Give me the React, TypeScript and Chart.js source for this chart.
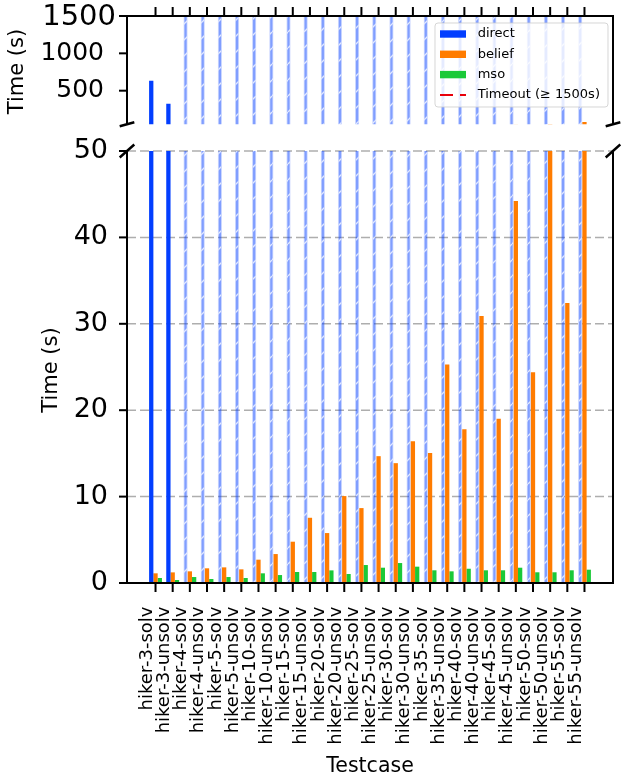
import React, { useEffect, useRef } from 'react';
import { Chart, registerables } from 'chart.js';

Chart.register(...registerables);

// ---------------- data ----------------
const CATEGORIES = [
  'hiker-3-solv', 'hiker-3-unsolv', 'hiker-4-solv', 'hiker-4-unsolv',
  'hiker-5-solv', 'hiker-5-unsolv', 'hiker-10-solv', 'hiker-10-unsolv',
  'hiker-15-solv', 'hiker-15-unsolv', 'hiker-20-solv', 'hiker-20-unsolv',
  'hiker-25-solv', 'hiker-25-unsolv', 'hiker-30-solv', 'hiker-30-unsolv',
  'hiker-35-solv', 'hiker-35-unsolv', 'hiker-40-solv', 'hiker-40-unsolv',
  'hiker-45-solv', 'hiker-45-unsolv', 'hiker-50-solv', 'hiker-50-unsolv',
  'hiker-55-solv', 'hiker-55-unsolv',
];
const DIRECT = [
  634, 326, 1500, 1500, 1500, 1500, 1500, 1500, 1500, 1500, 1500, 1500, 1500,
  1500, 1500, 1500, 1500, 1500, 1500, 1500, 1500, 1500, 1500, 1500, 1500, 1500,
];
const BELIEF = [
  1.12, 1.23, 1.35, 1.7, 1.81, 1.58, 2.7, 3.35, 4.78, 7.55, 5.78, 10.06, 8.67,
  14.68, 13.87, 16.4, 15.06, 25.3, 17.8, 30.9, 19.0, 44.2, 24.4, 52, 32.4, 80,
];
const MSO = [
  0.58, 0.35, 0.69, 0.46, 0.69, 0.58, 1.12, 0.92, 1.27, 1.27, 1.46, 1.04, 2.08,
  1.77, 2.31, 1.89, 1.47, 1.35, 1.65, 1.47, 1.47, 1.77, 1.24, 1.24, 1.47, 1.54,
];
const TIMEOUT = 1500;
const TOP_Y_TICKS = [500, 1000, 1500];
const BOTTOM_Y_TICKS = [0, 10, 20, 30, 40, 50];
const TOP_RANGE = [50, 1500];
const BOTTOM_RANGE = [0, 50];
const SERIES_LABELS = ['direct', 'belief', 'mso'];
const TIMEOUT_LABEL = 'Timeout (\u2265 1500s)';
const Y_TITLE = 'Time (s)';
const X_TITLE = 'Testcase';

// ---------------- styles / geometry ----------------
const BLUE = '#023eff';
const ORANGE = '#ff7c00';
const GREEN = '#1ac938';
const RED = '#e8000b';
const FONT = '"DejaVu Sans", sans-serif';

const W = 621;
const H = 779;
const AX_L = 127;
const AX_R = 613;
const TOP_H = 132;
const TOP_AREA_TOP = 16;
const TOP_AREA_BOTTOM = 124.3;
const BOT_AREA_TOP = 151 - TOP_H;
const BOT_AREA_BOTTOM = 583 - TOP_H;
const X_MIN = -1.6625;
const X_MAX = 26.6625;
const UNIT = (AX_R - AX_L) / (X_MAX - X_MIN);
const CAT_LEFT = AX_L + (-0.5 - X_MIN) * UNIT;
const CAT_RIGHT = AX_R - (X_MAX - (CATEGORIES.length - 0.5)) * UNIT;

function seg(ctx: CanvasRenderingContext2D, x1: number, y1: number, x2: number, y2: number, w: number, color: string, dash: number[] = []) {
  ctx.save();
  ctx.beginPath();
  ctx.lineWidth = w;
  ctx.strokeStyle = color;
  ctx.setLineDash(dash);
  ctx.moveTo(x1, y1);
  ctx.lineTo(x2, y2);
  ctx.stroke();
  ctx.restore();
}

function text(ctx: CanvasRenderingContext2D, s: string, x: number, y: number, size: number, align: CanvasTextAlign, baseline: CanvasTextBaseline, rot = 0) {
  ctx.save();
  ctx.translate(x, y);
  if (rot) ctx.rotate(rot);
  ctx.font = `${size}px ${FONT}`;
  ctx.fillStyle = '#000';
  ctx.textAlign = align;
  ctx.textBaseline = baseline;
  ctx.fillText(s, 0, 0);
  ctx.restore();
}

function makeHatch(): CanvasPattern | string {
  const P = 16;
  const c = document.createElement('canvas');
  c.width = P;
  c.height = P;
  const g = c.getContext('2d');
  const base = 'rgba(2,62,255,0.5)';
  if (!g) return base;
  g.fillStyle = base;
  g.fillRect(0, 0, P, P);
  g.strokeStyle = 'rgba(255,255,255,0.75)';
  g.lineWidth = 1.3;
  for (const o of [-P, 0, P]) {
    g.beginPath();
    g.moveTo(o, P);
    g.lineTo(o + P, 0);
    g.stroke();
  }
  return g.createPattern(c, 'repeat') || base;
}

function breakMark(ctx: CanvasRenderingContext2D, x: number, y: number, dy: number) {
  seg(ctx, x - 7.3, y + dy, x + 7.3, y - dy, 2.5, '#000');
}

const topDecor = {
  id: 'topDecor',
  afterDatasetsDraw(chart: any) {
    const ctx: CanvasRenderingContext2D = chart.ctx;
    const xs = chart.scales.x;
    const ys = chart.scales.y;
    const top = ys.getPixelForValue(TOP_RANGE[1]);
    const bot = ys.getPixelForValue(TOP_RANGE[0]);
    const ty = ys.getPixelForValue(TIMEOUT);
    seg(ctx, AX_L, ty, AX_R, ty, 2, RED, [14, 6]);
    seg(ctx, AX_L, top - 1, AX_L, bot, 2, '#000');
    seg(ctx, AX_R, top - 1, AX_R, bot, 2, '#000');
    seg(ctx, AX_L - 1, top, AX_R + 1, top, 2, '#000');
    TOP_Y_TICKS.forEach((v) => {
      const y = ys.getPixelForValue(v);
      seg(ctx, AX_L - 8, y, AX_L, y, 2, '#000');
      if (v === TIMEOUT) text(ctx, String(v), 116, y + 1, 29, 'right', 'middle');
      else text(ctx, String(v), 104, y, 25, 'right', 'middle');
    });
    CATEGORIES.forEach((_, i) => {
      const x = xs.getPixelForValue(i);
      seg(ctx, x, top, x, top - 9, 2, '#000');
    });
    breakMark(ctx, AX_L, bot, 2);
    breakMark(ctx, AX_R, bot, 2);
    text(ctx, Y_TITLE, 17.5, 71.5, 21, 'center', 'middle', -Math.PI / 2);

    // legend
    ctx.save();
    const lx = 435, lyTop = 23, lw = 173, lh = 84;
    ctx.beginPath();
    ctx.roundRect(lx, lyTop, lw, lh, 3);
    ctx.fillStyle = 'rgba(255,255,255,0.8)';
    ctx.fill();
    ctx.strokeStyle = 'rgba(204,204,204,0.8)';
    ctx.lineWidth = 1;
    ctx.stroke();
    ctx.restore();
    const rows = [34, 54.3, 74.6, 95];
    const colors = [BLUE, ORANGE, GREEN];
    SERIES_LABELS.forEach((lab, i) => {
      ctx.save();
      ctx.fillStyle = colors[i];
      ctx.fillRect(440, rows[i] - 3.7, 26, 7.4);
      ctx.restore();
      text(ctx, lab, 477.7, rows[i], 13, 'left', 'middle');
    });
    seg(ctx, 440, rows[3], 466, rows[3], 2.2, RED, [13, 7]);
    text(ctx, TIMEOUT_LABEL, 477.7, rows[3], 13, 'left', 'middle');
  },
};

const bottomDecor = {
  id: 'bottomDecor',
  beforeDatasetsDraw(chart: any) {
    const ctx: CanvasRenderingContext2D = chart.ctx;
    const ys = chart.scales.y;
    BOTTOM_Y_TICKS.forEach((v) => {
      if (v === 0) return;
      const y = ys.getPixelForValue(v);
      seg(ctx, AX_L, y, AX_R, y, 1.5, 'rgba(160,160,160,0.85)', [9, 4]);
    });
  },
  afterDatasetsDraw(chart: any) {
    const ctx: CanvasRenderingContext2D = chart.ctx;
    const xs = chart.scales.x;
    const ys = chart.scales.y;
    const top = ys.getPixelForValue(BOTTOM_RANGE[1]);
    const bot = ys.getPixelForValue(BOTTOM_RANGE[0]);
    seg(ctx, AX_L, top, AX_L, bot + 1, 2, '#000');
    seg(ctx, AX_R, top, AX_R, bot + 1, 2, '#000');
    seg(ctx, AX_L - 1, bot, AX_R + 1, bot, 2, '#000');
    BOTTOM_Y_TICKS.forEach((v) => {
      const y = ys.getPixelForValue(v);
      seg(ctx, AX_L - 8, y, AX_L, y, 2, '#000');
      text(ctx, String(v), 108, y, 27, 'right', 'middle');
    });
    CATEGORIES.forEach((lab, i) => {
      const x = xs.getPixelForValue(i);
      seg(ctx, x, bot, x, bot + 9, 2, '#000');
      text(ctx, lab, x - 3.5, bot + 23.5, 18, 'right', 'alphabetic', -Math.PI / 2);
    });
    breakMark(ctx, AX_L, top, 6.5);
    breakMark(ctx, AX_R, top, 6.5);
    text(ctx, Y_TITLE, 51.5, 370 - TOP_H, 21, 'center', 'middle', -Math.PI / 2);
    text(ctx, X_TITLE, (AX_L + AX_R) / 2, 771.7 - TOP_H, 20.5, 'center', 'alphabetic');
  },
};

function makeConfig(range: number[], padTop: number, padBottom: number, hatch: any, plugin: any): any {
  return {
    type: 'bar',
    data: {
      labels: CATEGORIES,
      datasets: [
        {
          label: SERIES_LABELS[0],
          data: DIRECT,
          backgroundColor: DIRECT.map((v) => (v >= TIMEOUT ? hatch : BLUE)),
          borderColor: DIRECT.map((v) => (v >= TIMEOUT ? 'rgba(2,62,255,0.2)' : BLUE)),
          borderWidth: DIRECT.map((v) => (v >= TIMEOUT ? 1 : 0)),
          borderSkipped: false,
          inflateAmount: 0,
          clip: 0,
        },
        { label: SERIES_LABELS[1], data: BELIEF, backgroundColor: ORANGE, borderWidth: 0, clip: 0 },
        { label: SERIES_LABELS[2], data: MSO, backgroundColor: GREEN, borderWidth: 0, clip: 0 },
      ],
    },
    options: {
      animation: false,
      responsive: false,
      events: [],
      layout: { padding: { left: CAT_LEFT, right: W - CAT_RIGHT, top: padTop, bottom: padBottom } },
      datasets: { bar: { categoryPercentage: 0.75, barPercentage: 1.0 } },
      scales: {
        x: { display: false },
        y: { display: false, min: range[0], max: range[1] },
      },
      plugins: { legend: { display: false }, tooltip: { enabled: false } },
    },
    plugins: [plugin],
  };
}

export default function App() {
  const topRef = useRef<HTMLCanvasElement>(null);
  const botRef = useRef<HTMLCanvasElement>(null);

  useEffect(() => {
    if (!topRef.current || !botRef.current) return;
    const hatch = makeHatch();
    const topChart = new Chart(
      topRef.current,
      makeConfig(TOP_RANGE, TOP_AREA_TOP, TOP_H - TOP_AREA_BOTTOM, hatch, topDecor)
    );
    const botChart = new Chart(
      botRef.current,
      makeConfig(BOTTOM_RANGE, BOT_AREA_TOP, H - TOP_H - BOT_AREA_BOTTOM, hatch, bottomDecor)
    );
    return () => {
      topChart.destroy();
      botChart.destroy();
    };
  }, []);

  return (
    <div style={{ position: 'absolute', left: 0, top: 0, width: W, height: H, background: '#fff' }}>
      <canvas
        ref={topRef}
        width={W}
        height={TOP_H}
        style={{ position: 'absolute', left: 0, top: 0, width: W, height: TOP_H }}
      />
      <canvas
        ref={botRef}
        width={W}
        height={H - TOP_H}
        style={{ position: 'absolute', left: 0, top: TOP_H, width: W, height: H - TOP_H }}
      />
    </div>
  );
}
